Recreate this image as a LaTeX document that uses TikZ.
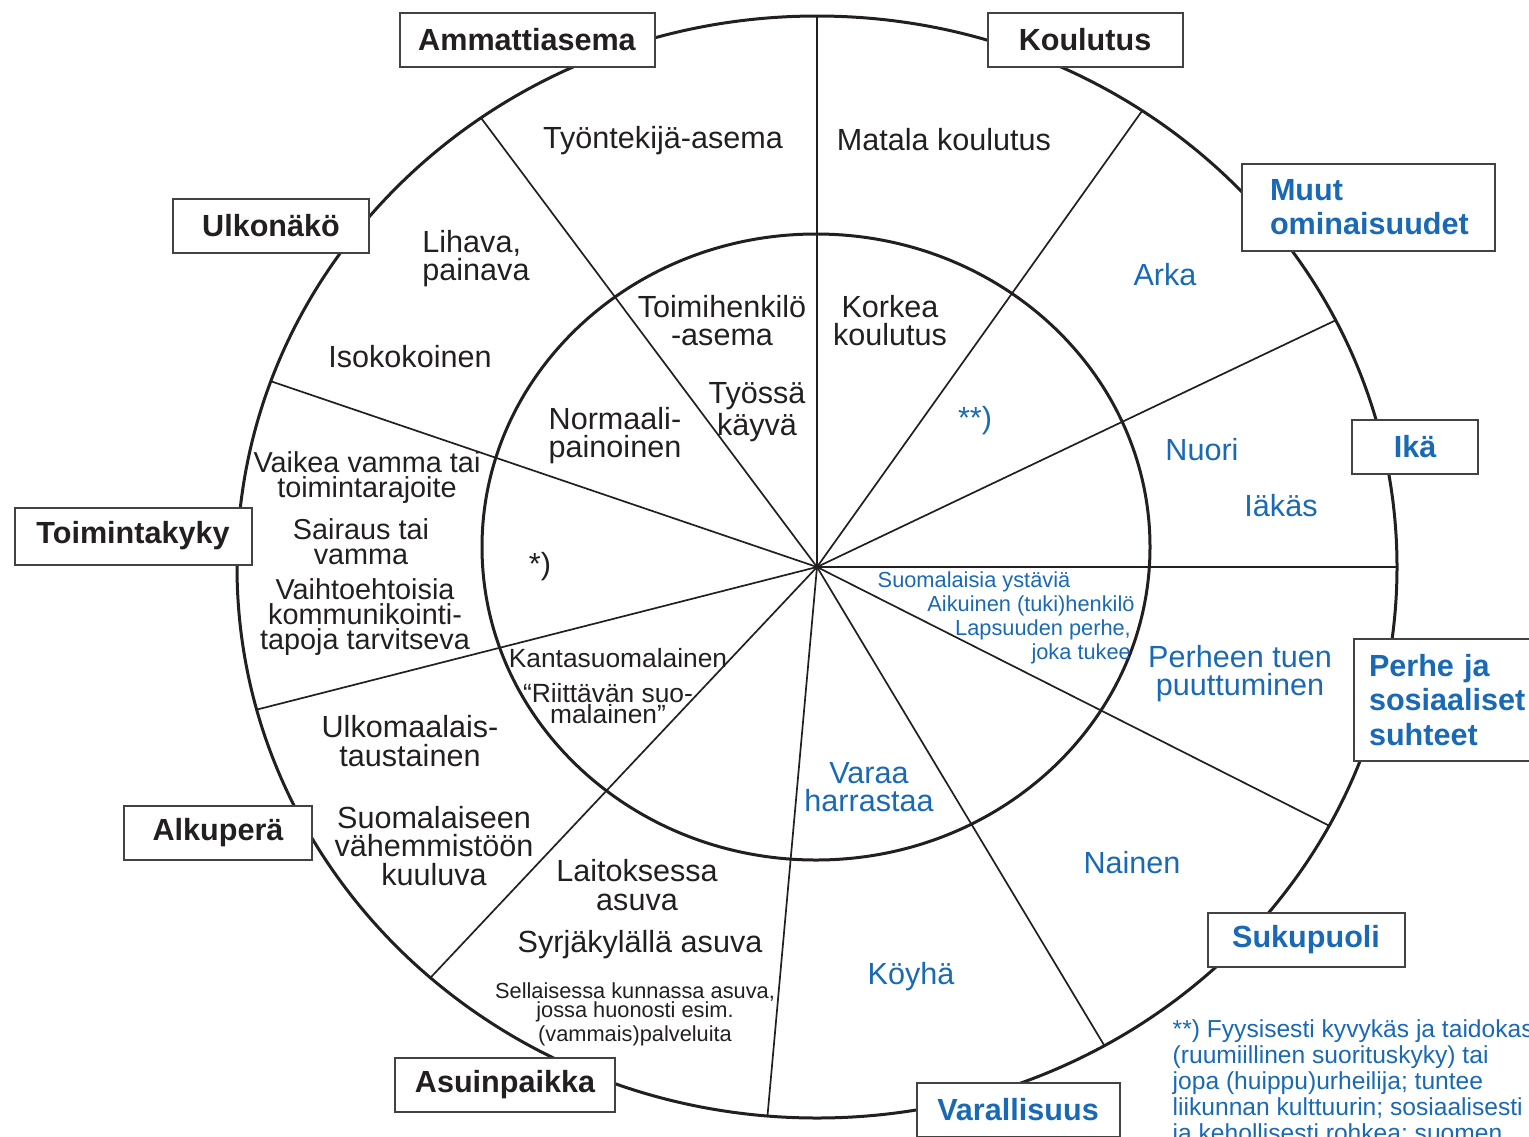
\documentclass[tikz,border=0pt]{standalone}
\usepackage{fontspec}
\setmainfont{Liberation Sans}

\definecolor{ink}{RGB}{35,31,32}
\definecolor{blu}{RGB}{25,105,180}

\begin{document}
\begin{tikzpicture}[
	x=0.1mm, y=-0.1mm,
	every node/.style={inner sep=0pt, text=ink},
	rim/.style={line width=0.3mm, draw=ink},
	spoke/.style={line width=0.17mm, draw=ink},
	tag/.style={draw=ink!85, line width=0.2mm, fill=white, minimum height=5.4mm,
		font=\bfseries\fontsize{8.7}{9.7}\selectfont, align=center},
	item/.style={font=\fontsize{8.7}{8}\selectfont, align=center},
	itemsm/.style={font=\fontsize{8.2}{7.1}\selectfont, align=center},
	mid/.style={font=\fontsize{7.5}{6}\selectfont, align=center},
	tiny/.style={font=\fontsize{6.2}{5.4}\selectfont, align=center},
	note/.style={font=\fontsize{7}{7.4}\selectfont, align=left},
	bluetxt/.style={text=blu}
]
%/*
\useasboundingbox (0,0) rectangle (1529,1136);

\coordinate (ctr) at (817,567);
\coordinate (ictr) at (816,547);

\foreach \t in {-90,-55.9,-26.6,0,28,60.3,94.9,131.8,165,199.7,234.6}
	\draw[spoke] (ctr) -- ++(\t:580 and 551);

\draw[rim] (ictr) ellipse [x radius=33.4mm, y radius=31.3mm];
\draw[rim] (ctr) ellipse [x radius=58mm, y radius=55.1mm];

% outer ring
\node[item] (tyontekija) at (663,141) {Työntekijä-asema};
\node[item] (matala) at (944,140) {Matala koulutus};
\node[item, align=left] (lihava) at (476,259) {Lihava,\\painava};
\node[item] (isokoko) at (410,357) {Isokokoinen};
\node[itemsm] (vaikea) at (367,478) {Vaikea vamma tai\\toimintarajoite};
\node[itemsm] (sairaus) at (361,542) {Sairaus tai\\vamma};
\node[itemsm] (vaihto) at (365,617) {Vaihtoehtoisia\\kommunikointi-\\tapoja tarvitseva};
\node[item] (ulkomaa) at (410,741) {Ulkomaalais-\\taustainen};
\node[item] (vahemmisto) at (434,846) {Suomalaiseen\\vähemmistöön\\kuuluva};
\node[item] (laitos) at (637,885) {Laitoksessa\\asuva};
\node[item] (syrja) at (640,945) {Syrjäkylällä asuva};
\node[tiny] (kunta) at (635,1014) {Sellaisessa kunnassa asuva,\\jossa huonosti esim.\\(vammais)palveluita};
\node[item, bluetxt] (arka) at (1165,275) {Arka};
\node[item, bluetxt] (nuori) at (1202,450) {Nuori};
\node[item, bluetxt] (iakas) at (1281,506) {Iäkäs};
\node[item, bluetxt] (perheen) at (1240,674) {Perheen tuen\\puuttuminen};
\node[item, bluetxt] (nainen) at (1132,863) {Nainen};
\node[item, bluetxt] (koyha) at (911,977) {Köyhä};

% inner ring
\node[item] (toimih) at (722,321) {Toimihenkilö\\-asema};
\node[item] (korkea) at (890,321) {Korkea\\koulutus};
\node[item, align=left] (normaali) at (615,436) {Normaali-\\painoinen};
\node[item] (tyossa) at (757,412) {Työssä\\käyvä};
\node[item] (tahti) at (540,567) {*)};
\node[mid] (kanta) at (618,658) {Kantasuomalainen};
\node[mid] (riittava) at (608,704) {“Riittävän suo-\\malainen”};
\node[item, bluetxt] (tahti2) at (975,421) {**)};
\node[tiny, bluetxt] (ystavia) at (974,582) {Suomalaisia ystäviä};
\node[tiny, bluetxt] (aikuinen) at (1031,606) {Aikuinen (tuki)henkilö};
\node[tiny, bluetxt, align=right] (lapsuus) at (1043,642) {Lapsuuden perhe,\\joka tukee};
\node[item, bluetxt] (varaa) at (869,787) {Varaa\\harrastaa};

% headings
\node[tag, minimum width=25.5mm] (ammatti) at (527,40) {Ammattiasema};
\node[tag, minimum width=19.5mm] (koulutus) at (1085,40) {Koulutus};
\node[tag, bluetxt, anchor=north west, text width=19.7mm, inner xsep=2.8mm,
	minimum height=8.7mm, align=left] (muut) at (1241,163) {Muut\\ominaisuudet};
\node[tag, bluetxt, minimum width=12.6mm] (ika) at (1415,447) {Ikä};
\node[tag, bluetxt, anchor=north west, text width=16mm, inner xsep=1.5mm,
	minimum height=12.2mm, align=left] (perhe) at (1353,638) {Perhe ja\\sosiaaliset\\suhteet};
\node[tag, bluetxt, minimum width=19.7mm] (suku) at (1306,940) {Sukupuoli};
\node[tag, bluetxt, minimum width=20.3mm] (varall) at (1018,1110) {Varallisuus};
\node[tag, minimum width=22mm] (asuin) at (505,1085) {Asuinpaikka};
\node[tag, minimum width=18.8mm] (alku) at (218,833) {Alkuperä};
\node[tag, minimum width=23.7mm, minimum height=5.7mm] (toiminta) at (133,536) {Toimintakyky};
\node[tag, minimum width=19.6mm] (ulko) at (271,226) {Ulkonäkö};

\node[note, bluetxt, anchor=north west] (alaviite) at (1172,1019)
	{**) Fyysisesti kyvykäs ja taidokas\\(ruumiillinen suorituskyky) tai\\jopa (huippu)urheilija; tuntee\\liikunnan kulttuurin; sosiaalisesti\\ja kehollisesti rohkea; suomen};
%*/
\end{tikzpicture}
\end{document}
